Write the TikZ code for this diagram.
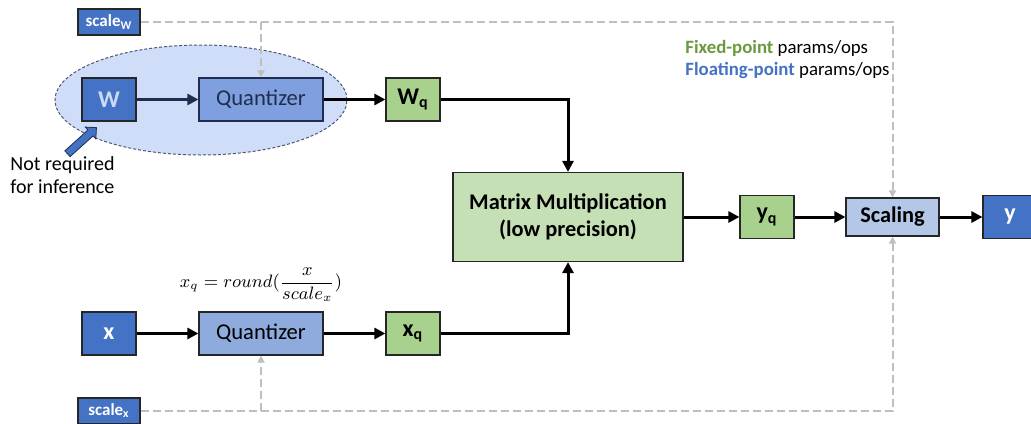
\documentclass[tikz,border=0pt]{standalone}
\usepackage{fontspec}
\setmainfont{Carlito}
\usetikzlibrary{arrows.meta,shapes.arrows}
\definecolor{fpblue}{HTML}{4472C4}
\definecolor{qblue}{HTML}{8FAADC}
\definecolor{qdim}{HTML}{7F9FDE}
\definecolor{scblue}{HTML}{B4C7E7}
\definecolor{fxgreen}{HTML}{A9D18E}
\definecolor{mmgreen}{HTML}{C5E0B4}
\definecolor{legreen}{HTML}{6A9A3E}
\definecolor{dashgray}{HTML}{BFBFBF}
\definecolor{ellfill}{HTML}{D0DDF8}
\definecolor{ellnavy}{HTML}{1F2D4E}
\definecolor{wtxt}{HTML}{CCD9F6}

\begin{document}
\begin{tikzpicture}[
    x=0.5pt, y=-0.5pt,
    box_style/.style={
        draw=black!85,
        line width=0.6pt,
        inner sep=0pt,
        align=center
        },
    fp_style/.style={box_style, fill=fpblue, text=white,
        font=\fontsize{12}{14}\selectfont\bfseries,
        minimum width=27pt, minimum height=21.5pt},
    fx_style/.style={box_style, fill=fxgreen,
        font=\fontsize{12}{14}\selectfont\bfseries,
        minimum width=27pt, minimum height=21.5pt},
    sc_style/.style={box_style, fill=fpblue, text=white,
        font=\fontsize{8.5}{10}\selectfont\bfseries,
        minimum width=31pt, minimum height=13pt},
    q_style/.style={box_style, fill=qblue,
        font=\fontsize{11.3}{13}\selectfont,
        minimum width=62pt, minimum height=21.5pt},
    edge_style/.style={
        line width=1.5pt,
        -{Triangle[length=5.5pt,width=5.5pt]}
        },
    dash_style/.style={
        draw=dashgray,
        line width=1pt,
        dash pattern=on 4pt off 2pt,
        -{Triangle[length=3.5pt,width=3.5pt]}
        }]

    \useasboundingbox (0,0) rectangle (1031,423);

    % region not needed at inference
    \draw[ellnavy!80, fill=ellfill, line width=0.5pt, dash pattern=on 1.5pt off 1pt]
        (201,100) ellipse [x radius=73pt, y radius=27.5pt];

    \node[sc_style] (scw) at (109,22) {scale\textsubscript{W}};
    \node[fp_style, text=wtxt] (w) at (109,99.5) {W};
    \node[q_style, fill=qdim, text=ellnavy, draw=ellnavy] (qw) at (261,99.5) {Quantizer};
    \node[fx_style] (wq) at (413,99.5) {W\textsubscript{q}};

    \node[box_style, fill=mmgreen, font=\fontsize{11.2}{13.5}\selectfont\bfseries,
        minimum width=115pt, minimum height=44.5pt] (mm) at (568,217) {Matrix Multiplication\\(low precision)};
    \node[fx_style] (yq) at (767,217) {y\textsubscript{q}};
    \node[box_style, fill=scblue, font=\fontsize{11.2}{13}\selectfont\bfseries,
        minimum width=46.5pt, minimum height=19pt] (scl) at (892.5,217) {Scaling};
    \node[fp_style] (y) at (1010,217) {y};

    \node[fp_style] (x) at (109,333.5) {x};
    \node[q_style] (qx) at (261,333.5) {Quantizer};
    \node[fx_style] (xq) at (413,333.5) {x\textsubscript{q}};
    \node[sc_style] (scx) at (109,411) {scale\textsubscript{x}};

    \node[font=\fontsize{9}{11}\selectfont] (frm) at (261,285) {$\displaystyle x_q = round(\frac{x}{scale_x})$};

    % legend
    \node[anchor=west, inner sep=0pt, font=\fontsize{9.4}{11}\selectfont] (leg1) at (685,48)
        {\textcolor{legreen}{\bfseries Fixed-point} params/ops};
    \node[anchor=west, inner sep=0pt, font=\fontsize{9.4}{11}\selectfont] (leg2) at (685,70)
        {\textcolor{fpblue}{\bfseries Floating-point} params/ops};

    % note
    \node[anchor=north west, align=left, inner sep=0pt, font=\fontsize{10}{11.5}\selectfont] (note) at (10,156)
        {Not required\\for inference};
    \node[single arrow, draw=ellnavy, fill=fpblue, line width=0.4pt, rotate=42,
        inner xsep=0pt, inner ysep=1.75pt, single arrow head extend=2pt,
        minimum height=19.5pt] (ptr) at (80.5,142) {};

    % data flow
    \draw[edge_style, ellnavy] (w) -- (qw);
    \draw[edge_style] (qw) -- (wq);
    \draw[edge_style] (wq) -| (mm);
    \draw[edge_style] (x) -- (qx);
    \draw[edge_style] (qx) -- (xq);
    \draw[edge_style] (xq) -| (mm);
    \draw[edge_style] (mm) -- (yq);
    \draw[edge_style] (yq) -- (scl);
    \draw[edge_style] (scl) -- (y);

    % scale factors
    \coordinate (tw) at (qw.north |- scw);
    \coordinate (bx) at (qx.south |- scx);
    \draw[dash_style] (scw) -| (scl);
    \draw[dash_style] (tw) -- (qw);
    \draw[dash_style] (scx) -| (scl);
    \draw[dash_style] (bx) -- (qx);
\end{tikzpicture}
\end{document}
